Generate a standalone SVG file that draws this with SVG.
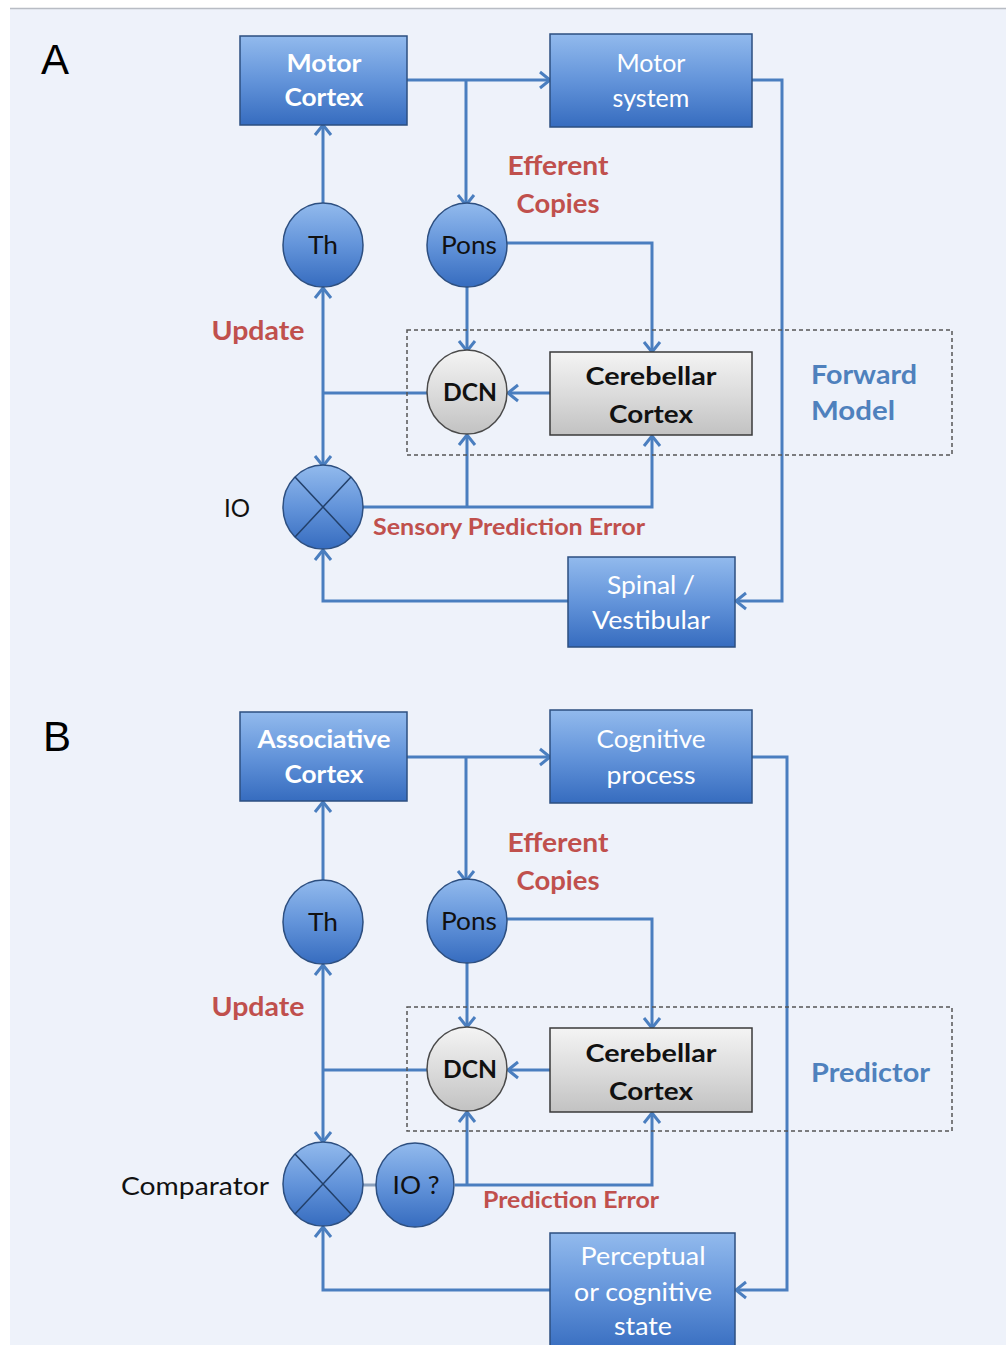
<svg xmlns="http://www.w3.org/2000/svg" width="1006" height="1345" viewBox="0 0 1006 1345">
<defs>
<linearGradient id="gBlue" x1="0" y1="0" x2="0" y2="1">
<stop offset="0" stop-color="#92baed"/><stop offset="0.5" stop-color="#6394da"/><stop offset="1" stop-color="#366cbf"/>
</linearGradient>
<linearGradient id="gGray" x1="0" y1="0" x2="0" y2="1">
<stop offset="0" stop-color="#f4f4f4"/><stop offset="0.5" stop-color="#dcdcdc"/><stop offset="1" stop-color="#c2c2c2"/>
</linearGradient>
<marker id="arr" markerUnits="userSpaceOnUse" markerWidth="16" markerHeight="20" refX="12" refY="10" orient="auto">
<path d="M2,2 L12,10 L2,18" fill="none" stroke="#4a7ebf" stroke-width="3"/>
</marker>
<style>
.bg{fill:#eef2fa}
.box{fill:url(#gBlue);stroke:#2d4f80;stroke-width:1.5}
.gbox{fill:url(#gGray);stroke:#3a3a3a;stroke-width:1.5}
.circ{fill:url(#gBlue);stroke:#2d4f80;stroke-width:1.5}
.gcirc{fill:url(#gGray);stroke:#4a4a4a;stroke-width:1.5}
.x{stroke:#22406a;stroke-width:1.5}
.ln{fill:none;stroke:#4a7ebf;stroke-width:3}
.ar{marker-end:url(#arr)}
.dash{fill:none;stroke:#555;stroke-width:1.5;stroke-dasharray:4,3}
.wt{font-family:Lato,"Open Sans",sans-serif;font-size:25px;font-weight:bold;fill:#ffffff;text-anchor:middle}
.wt2{font-family:Lato,"Open Sans",sans-serif;font-size:25px;fill:#ffffff;text-anchor:middle}
.bt{font-family:Lato,"Open Sans",sans-serif;font-size:25px;font-weight:bold;fill:#111;text-anchor:middle}
.nt{font-family:Lato,"Open Sans",sans-serif;font-size:25px;fill:#111;text-anchor:middle}
.rt{font-family:Lato,"Open Sans",sans-serif;font-size:26px;font-weight:bold;fill:#c0504d;text-anchor:middle}
.rs{font-family:Lato,"Open Sans",sans-serif;font-size:22px;font-weight:bold;fill:#c0504d;text-anchor:middle}
.bl{font-family:Lato,"Open Sans",sans-serif;font-size:26px;font-weight:bold;fill:#4f81bd}
.lt{font-family:"Liberation Sans",Arial,sans-serif;font-size:42px;fill:#000}
.lb{font-family:Lato,"Open Sans",sans-serif;font-size:25px;fill:#111;text-anchor:middle}
</style>
</defs>
<rect x="0" y="0" width="1006" height="1345" fill="#ffffff"/>
<rect class="bg" x="10" y="8" width="996" height="1337"/>
<line x1="10" y1="8.5" x2="1006" y2="8.5" stroke="#b8bcc4" stroke-width="1.5"/>

<text class="lt" x="41" y="74">A</text>
<text class="lt" x="43" y="751">B</text>

<g id="connectors">
<!-- Panel A -->
<path class="ln ar" d="M407,80 H550"/>
<path class="ln ar" d="M466,80 V205"/>
<path class="ln ar" d="M323,203 V125"/>
<path class="ln ar" d="M507,243 H652 V352"/>
<path class="ln ar" d="M467,287 V351"/>
<path class="ln ar" d="M550,393 H508"/>
<path class="ln" d="M427,393 H323"/>
<path class="ln ar" d="M323,393 V288"/>
<path class="ln ar" d="M323,393 V466"/>
<path class="ln ar" d="M363,507 H652 V436"/>
<path class="ln ar" d="M467,507 V435"/>
<path class="ln ar" d="M752,80 H782 V601 H736"/>
<path class="ln ar" d="M568,601 H323 V550"/>
<!-- Panel B -->
<path class="ln ar" d="M407,757 H550"/>
<path class="ln ar" d="M466,757 V881"/>
<path class="ln ar" d="M323,880 V802"/>
<path class="ln ar" d="M507,919 H652 V1028"/>
<path class="ln ar" d="M467,963 V1027"/>
<path class="ln ar" d="M550,1070 H508"/>
<path class="ln" d="M427,1070 H323"/>
<path class="ln ar" d="M323,1070 V965"/>
<path class="ln ar" d="M323,1070 V1142"/>
<path d="M363,1185 H377" stroke="#8aa0bd" stroke-width="3"/>
<path class="ln ar" d="M455,1185 H652 V1113"/>
<path class="ln ar" d="M467,1185 V1112"/>
<path class="ln ar" d="M752,757 H787 V1290 H736"/>
<path class="ln ar" d="M550,1290 H323 V1227"/>
</g>

<rect id="forward-model" class="dash" x="407" y="330" width="545" height="125"/>
<rect id="predictor-box" class="dash" x="407" y="1007" width="545" height="124"/>

<g id="motor-cortex">
<rect class="box" x="240" y="36" width="167" height="89"/>
<text class="wt" x="324" y="72" textLength="75" lengthAdjust="spacingAndGlyphs">Motor</text>
<text class="wt" x="324" y="106" textLength="79" lengthAdjust="spacingAndGlyphs">Cortex</text>
</g>
<g id="motor-system">
<rect class="box" x="550" y="34" width="202" height="93"/>
<text class="wt2" x="651" y="72">Motor</text>
<text class="wt2" x="651" y="107">system</text>
</g>
<g id="th-a">
<ellipse class="circ" cx="323" cy="245" rx="40" ry="42"/>
<text class="nt" x="323" y="254" textLength="30" lengthAdjust="spacingAndGlyphs">Th</text>
</g>
<g id="pons-a">
<ellipse class="circ" cx="467" cy="245" rx="40" ry="42"/>
<text class="nt" x="469" y="254" textLength="56" lengthAdjust="spacingAndGlyphs">Pons</text>
</g>
<g id="dcn-a">
<ellipse class="gcirc" cx="467" cy="392" rx="40" ry="42"/>
<text class="bt" x="470" y="401" textLength="54" lengthAdjust="spacingAndGlyphs">DCN</text>
</g>
<g id="cerebellar-a">
<rect class="gbox" x="550" y="352" width="202" height="83"/>
<text class="bt" x="651" y="385" textLength="131" lengthAdjust="spacingAndGlyphs">Cerebellar</text>
<text class="bt" x="651" y="423" textLength="84" lengthAdjust="spacingAndGlyphs">Cortex</text>
</g>
<g id="io-a">
<ellipse class="circ" cx="323" cy="507" rx="40" ry="42"/>
<line class="x" x1="295" y1="477" x2="351" y2="537"/>
<line class="x" x1="351" y1="477" x2="295" y2="537"/>
</g>
<g id="spinal">
<rect class="box" x="568" y="557" width="167" height="90"/>
<text class="wt2" x="651" y="594" textLength="88" lengthAdjust="spacingAndGlyphs">Spinal /</text>
<text class="wt2" x="651" y="629" textLength="118" lengthAdjust="spacingAndGlyphs">Vestibular</text>
</g>

<g id="labels-a">
<text class="rt" x="558" y="175" textLength="101" lengthAdjust="spacingAndGlyphs">Efferent</text>
<text class="rt" x="558" y="213" textLength="83" lengthAdjust="spacingAndGlyphs">Copies</text>
<text class="rt" x="258" y="340" textLength="93" lengthAdjust="spacingAndGlyphs">Update</text>
<text class="lb" x="237" y="517" textLength="26" lengthAdjust="spacingAndGlyphs">IO</text>
<text class="rs" x="509" y="535" textLength="272" lengthAdjust="spacingAndGlyphs">Sensory Prediction Error</text>
<text class="bl" x="811" y="384" textLength="106" lengthAdjust="spacingAndGlyphs">Forward</text>
<text class="bl" x="811" y="420" textLength="84" lengthAdjust="spacingAndGlyphs">Model</text>
</g>

<g id="associative-cortex">
<rect class="box" x="240" y="712" width="167" height="89"/>
<text class="wt" x="324" y="748" textLength="133" lengthAdjust="spacingAndGlyphs">Associative</text>
<text class="wt" x="324" y="783" textLength="79" lengthAdjust="spacingAndGlyphs">Cortex</text>
</g>
<g id="cognitive-process">
<rect class="box" x="550" y="710" width="202" height="93"/>
<text class="wt2" x="651" y="748" textLength="109" lengthAdjust="spacingAndGlyphs">Cognitive</text>
<text class="wt2" x="651" y="784" textLength="89" lengthAdjust="spacingAndGlyphs">process</text>
</g>
<g id="th-b">
<ellipse class="circ" cx="323" cy="922" rx="40" ry="42"/>
<text class="nt" x="323" y="931" textLength="30" lengthAdjust="spacingAndGlyphs">Th</text>
</g>
<g id="pons-b">
<ellipse class="circ" cx="467" cy="921" rx="40" ry="42"/>
<text class="nt" x="469" y="930" textLength="56" lengthAdjust="spacingAndGlyphs">Pons</text>
</g>
<g id="dcn-b">
<ellipse class="gcirc" cx="467" cy="1069" rx="40" ry="42"/>
<text class="bt" x="470" y="1078" textLength="54" lengthAdjust="spacingAndGlyphs">DCN</text>
</g>
<g id="cerebellar-b">
<rect class="gbox" x="550" y="1028" width="202" height="84"/>
<text class="bt" x="651" y="1062" textLength="131" lengthAdjust="spacingAndGlyphs">Cerebellar</text>
<text class="bt" x="651" y="1100" textLength="84" lengthAdjust="spacingAndGlyphs">Cortex</text>
</g>
<g id="comparator">
<ellipse class="circ" cx="323" cy="1184" rx="40" ry="42"/>
<line class="x" x1="295" y1="1154" x2="351" y2="1214"/>
<line class="x" x1="351" y1="1154" x2="295" y2="1214"/>
</g>
<g id="io-b">
<ellipse class="circ" cx="415" cy="1185" rx="39" ry="42"/>
<text class="nt" x="416" y="1194" textLength="47" lengthAdjust="spacingAndGlyphs">IO ?</text>
</g>
<g id="perceptual">
<rect class="box" x="550" y="1233" width="185" height="120"/>
<text class="wt2" x="643" y="1265" textLength="125" lengthAdjust="spacingAndGlyphs">Perceptual</text>
<text class="wt2" x="643" y="1301" textLength="138" lengthAdjust="spacingAndGlyphs">or cognitive</text>
<text class="wt2" x="643" y="1335" textLength="58" lengthAdjust="spacingAndGlyphs">state</text>
</g>

<g id="labels-b">
<text class="rt" x="558" y="852" textLength="101" lengthAdjust="spacingAndGlyphs">Efferent</text>
<text class="rt" x="558" y="890" textLength="83" lengthAdjust="spacingAndGlyphs">Copies</text>
<text class="rt" x="258" y="1016" textLength="93" lengthAdjust="spacingAndGlyphs">Update</text>
<text class="lb" x="195" y="1195" textLength="148" lengthAdjust="spacingAndGlyphs">Comparator</text>
<text class="rs" x="571" y="1208" textLength="176" lengthAdjust="spacingAndGlyphs">Prediction Error</text>
<text class="bl" x="811" y="1082" textLength="119" lengthAdjust="spacingAndGlyphs">Predictor</text>
</g>
</svg>
